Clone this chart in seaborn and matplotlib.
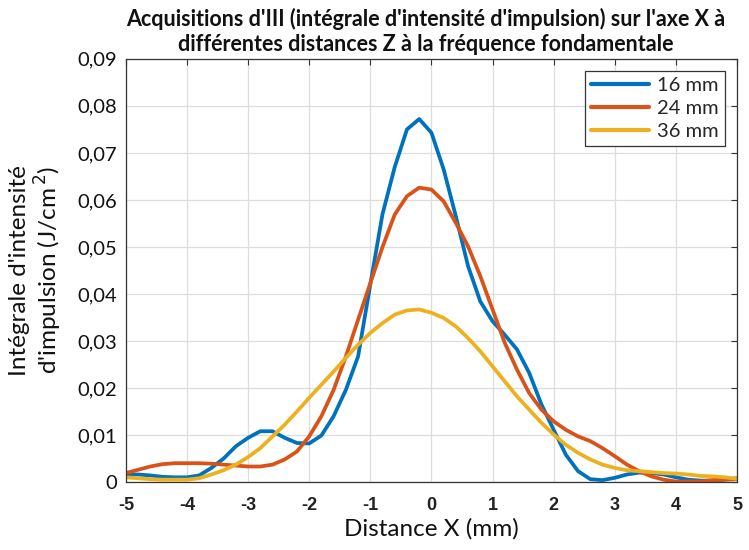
import matplotlib
matplotlib.use("Agg")
import matplotlib.pyplot as plt
import pandas as pd
import seaborn as sns

# positions along X (mm), sampled every 0.2 mm
x_mm = [round(-5 + 0.2 * i, 1) for i in range(51)]

i16 = [0.0016, 0.0016, 0.0014, 0.0011, 0.0010, 0.0010, 0.0014, 0.0030, 0.0050, 0.0076,
       0.0094, 0.0108, 0.0108, 0.0094, 0.0083, 0.0082, 0.0099, 0.0140, 0.0196, 0.0267,
       0.0420, 0.0570, 0.0670, 0.0750, 0.0772, 0.0743, 0.0665, 0.0565, 0.0459, 0.0384,
       0.0342, 0.0313, 0.0282, 0.0232, 0.0165, 0.0111, 0.0058, 0.0023, 0.0006, 0.0004,
       0.0009, 0.0016, 0.0020, 0.0019, 0.0016, 0.0010, 0.0005, 0.0003, 0.0003, 0.0005,
       0.0008]
i24 = [0.0019, 0.0026, 0.0033, 0.0038, 0.0040, 0.0040, 0.0040, 0.0039, 0.0037, 0.0035,
       0.0033, 0.0033, 0.0037, 0.0048, 0.0065, 0.0097, 0.0140, 0.0196, 0.0267, 0.0345,
       0.0423, 0.0500, 0.0569, 0.0608, 0.0626, 0.0622, 0.0597, 0.0551, 0.0501, 0.0438,
       0.0367, 0.0296, 0.0239, 0.0189, 0.0154, 0.0129, 0.0111, 0.0097, 0.0087, 0.0072,
       0.0055, 0.0037, 0.0023, 0.0012, 0.0005, 0.0001, 0.0001, 0.0001, 0.0004, 0.0005,
       0.0006]
i36 = [0.0010, 0.0008, 0.0006, 0.0005, 0.0005, 0.0005, 0.0008, 0.0016, 0.0025, 0.0037,
       0.0053, 0.0072, 0.0097, 0.0122, 0.0150, 0.0179, 0.0207, 0.0235, 0.0264, 0.0292,
       0.0317, 0.0338, 0.0356, 0.0365, 0.0367, 0.0360, 0.0349, 0.0331, 0.0306, 0.0278,
       0.0246, 0.0214, 0.0182, 0.0154, 0.0126, 0.0101, 0.0079, 0.0062, 0.0048, 0.0037,
       0.0030, 0.0025, 0.0023, 0.0021, 0.0019, 0.0018, 0.0016, 0.0013, 0.0012, 0.0010,
       0.0007]

labels = ["16 mm", "24 mm", "36 mm"]
colors = ["#0072BD", "#D95319", "#EDB120"]
yticks = [0, 0.01, 0.02, 0.03, 0.04, 0.05, 0.06, 0.07, 0.08, 0.09]
ytick_labels = ["0", "0,01", "0,02", "0,03", "0,04", "0,05", "0,06", "0,07", "0,08", "0,09"]
xticks = [-5, -4, -3, -2, -1, 0, 1, 2, 3, 4, 5]

df = pd.DataFrame({
    "x": x_mm * 3,
    "iii": i16 + i24 + i36,
    "dist": [labels[0]] * 51 + [labels[1]] * 51 + [labels[2]] * 51,
})

sns.set_theme(style="whitegrid")
plt.rcParams["font.family"] = ["Lato", "DejaVu Sans"]

fig = plt.figure(figsize=(7.49, 5.5), dpi=100)
ax = fig.add_axes([0.168, 0.1236, 0.816, 0.7694])

sns.lineplot(data=df, x="x", y="iii", hue="dist", palette=colors,
             linewidth=2.7, ax=ax, legend=True)

ax.set_xlim(-5, 5)
ax.set_ylim(0, 0.09)
ax.set_xticks(xticks)
ax.set_xticklabels([str(t) for t in xticks], fontsize=13, fontweight="bold",
                   family="Liberation Sans", color="#222222")
ax.set_yticks(yticks)
ax.set_yticklabels(ytick_labels, fontsize=14.5, color="#111111")
ax.grid(True, color="#dddddd", linewidth=0.9)
ax.tick_params(direction="in", top=True, right=True, length=4, color="#333333",
               width=0.8, pad=6)
ax.tick_params(axis="x", pad=11)
for s in ax.spines.values():
    s.set_color("#333333")
    s.set_linewidth(0.9)

ax.set_xlabel("Distance X (mm)", fontsize=17.5, color="#111111", labelpad=3)
ax.set_ylabel("Intégrale d'intensité\nd'impulsion (J/cm$^{\\,2}$)", fontsize=17.5,
              color="#111111", labelpad=10, linespacing=1.1)
ax.set_title("Acquisitions d'III (intégrale d'intensité d'impulsion) sur l'axe X à\n"
             "différentes distances Z à la fréquence fondamentale",
             fontsize=15.5, fontweight="bold", color="#111111", pad=6, linespacing=1.2,
             x=0.49)

leg = ax.legend(loc="upper right", fontsize=14.5, frameon=True, fancybox=False,
                edgecolor="#333333", framealpha=1, handlelength=2.9,
                borderaxespad=0.6, labelspacing=0.3, borderpad=0.3, handletextpad=0.4)
leg.set_title(None)
leg.get_frame().set_linewidth(0.9)
for line in leg.get_lines():
    line.set_linewidth(3)

fig.savefig("out.png", dpi=100)
